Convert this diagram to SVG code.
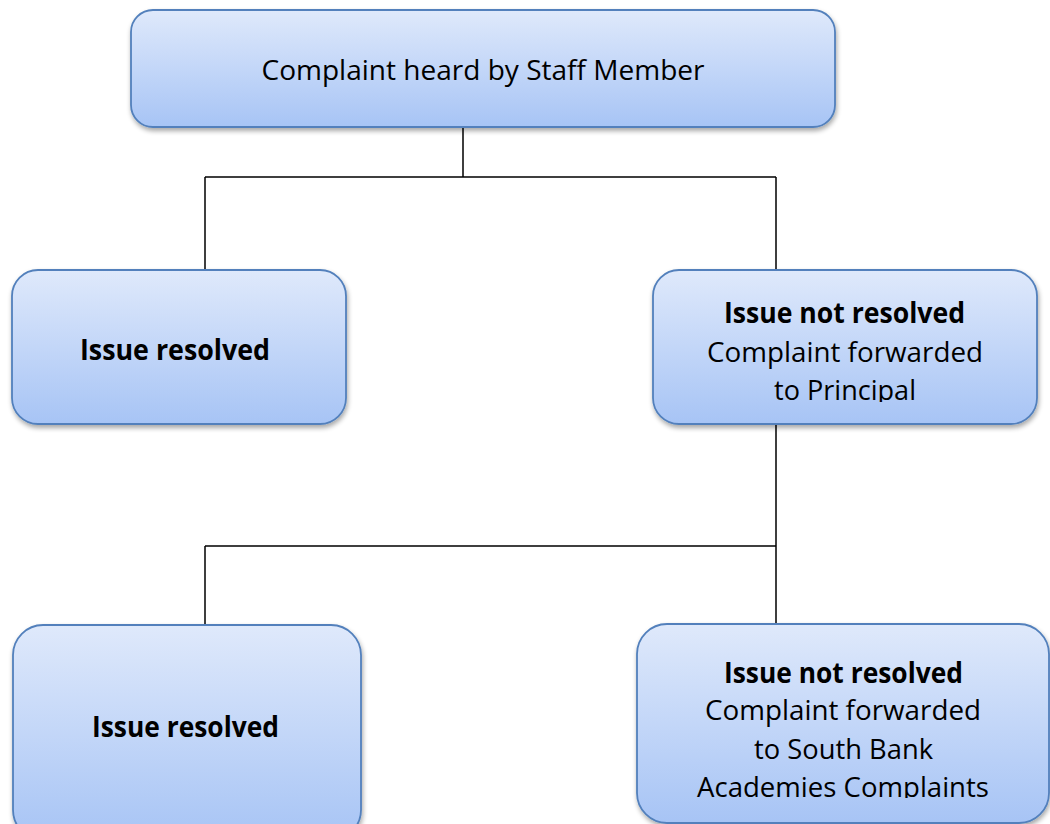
<svg xmlns="http://www.w3.org/2000/svg" width="1050" height="824" viewBox="0 0 1050 824">
<style>
.box{fill:url(#g);stroke:#5280bc;stroke-width:1.8;filter:url(#sh)}
.t{font-family:"Open Sans","Liberation Sans",sans-serif;font-size:28px;fill:#000;text-anchor:middle}
.b{font-weight:bold}
.c{stroke:#000;stroke-width:1.5;fill:none}
</style>
<defs>
<linearGradient id="g" x1="0" y1="0" x2="0" y2="1">
<stop offset="0" stop-color="#dfe9fb"/>
<stop offset="1" stop-color="#a7c4f5"/>
</linearGradient>
<filter id="sh" x="-10%" y="-10%" width="120%" height="130%">
<feGaussianBlur in="SourceAlpha" stdDeviation="2.5"/>
<feOffset dx="1" dy="3" result="o"/>
<feComponentTransfer><feFuncA type="linear" slope="0.35"/></feComponentTransfer>
<feMerge><feMergeNode/><feMergeNode in="SourceGraphic"/></feMerge>
</filter>
<clipPath id="c1"><rect x="653" y="270" width="384" height="132"/></clipPath>
<clipPath id="c2"><rect x="637" y="624" width="412" height="174"/></clipPath>
</defs>
<g id="connectors">
<path class="c" d="M463 127V177M205 177H776M205 177V270M776 177V270"/>
<path class="c" d="M776 424V546M205 546H776M205 546V625M776 546V624"/>
</g>
<g id="n1">
<rect class="box" x="131" y="10" width="704" height="117" rx="22"/>
<text class="t" x="483" y="80" textLength="443" lengthAdjust="spacingAndGlyphs">Complaint heard by Staff Member</text>
</g>
<g id="n2">
<rect class="box" x="12" y="270" width="334" height="154" rx="26"/>
<text class="t b" x="175" y="360" textLength="190" lengthAdjust="spacingAndGlyphs">Issue resolved</text>
</g>
<g id="n3">
<rect class="box" x="653" y="270" width="384" height="154" rx="26"/>
<g clip-path="url(#c1)">
<text class="t b" x="844.5" y="323" textLength="241" lengthAdjust="spacingAndGlyphs">Issue not resolved</text>
<text class="t" x="845" y="362" textLength="276" lengthAdjust="spacingAndGlyphs">Complaint forwarded</text>
<text class="t" x="845" y="400" textLength="142" lengthAdjust="spacingAndGlyphs">to Principal</text>
</g>
</g>
<g id="n4">
<rect class="box" x="13" y="625" width="348" height="215" rx="30"/>
<text class="t b" x="185.5" y="737" textLength="187" lengthAdjust="spacingAndGlyphs">Issue resolved</text>
</g>
<g id="n5">
<rect class="box" x="637" y="624" width="412" height="199" rx="30"/>
<g clip-path="url(#c2)">
<text class="t b" x="843.5" y="683" textLength="239" lengthAdjust="spacingAndGlyphs">Issue not resolved</text>
<text class="t" x="843" y="720" textLength="276" lengthAdjust="spacingAndGlyphs">Complaint forwarded</text>
<text class="t" x="843.5" y="759" textLength="179" lengthAdjust="spacingAndGlyphs">to South Bank</text>
<text class="t" x="843" y="797" textLength="292" lengthAdjust="spacingAndGlyphs">Academies Complaints</text>
</g>
</g>
</svg>
